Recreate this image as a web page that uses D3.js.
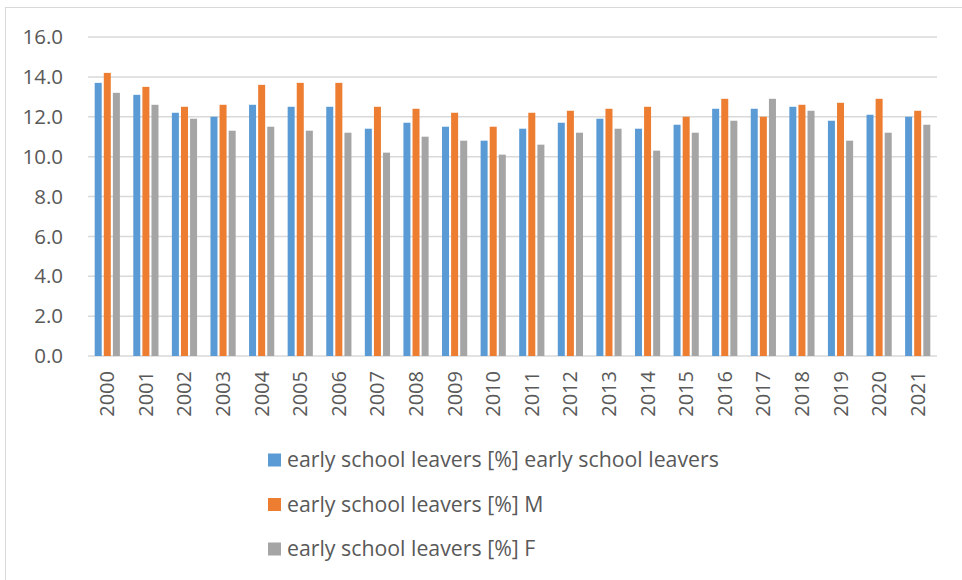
<!DOCTYPE html>
<html>
<head>
<meta charset="utf-8">
<script src="https://cdn.jsdelivr.net/npm/d3@7"></script>
<style>
  body { margin: 0; background: #fff; }
  text { font-family: "Open Sans", sans-serif; fill: #595959; }
</style>
</head>
<body>
<div id="chart"></div>
<script>
var years = ['2000', '2001', '2002', '2003', '2004', '2005', '2006', '2007', '2008', '2009', '2010',
  '2011', '2012', '2013', '2014', '2015', '2016', '2017', '2018', '2019', '2020', '2021'];
var seriesNames = ['early school leavers [%] early school leavers', 'early school leavers [%] M', 'early school leavers [%] F'];
var total = [13.7, 13.1, 12.2, 12.0, 12.6, 12.5, 12.5, 11.4, 11.7, 11.5, 10.8,
  11.4, 11.7, 11.9, 11.4, 11.6, 12.4, 12.4, 12.5, 11.8, 12.1, 12.0];
var male = [14.2, 13.5, 12.5, 12.6, 13.6, 13.7, 13.7, 12.5, 12.4, 12.2, 11.5,
  12.2, 12.3, 12.4, 12.5, 12.0, 12.9, 12.0, 12.6, 12.7, 12.9, 12.3];
var female = [13.2, 12.6, 11.9, 11.3, 11.5, 11.3, 11.2, 10.2, 11.0, 10.8, 10.1,
  10.6, 11.2, 11.4, 10.3, 11.2, 11.8, 12.9, 12.3, 10.8, 11.2, 11.6];
var yTicks = [0, 2, 4, 6, 8, 10, 12, 14, 16];
var colors = ['#5b9bd5', '#ed7d31', '#a5a5a5'];

var width = 962;
var height = 580;
var values = [total, male, female];

var svg = d3.select('#chart')
  .append('svg')
  .attr('width', width)
  .attr('height', height);

// chart border (runs off the right and bottom edges)
svg.append('rect')
  .attr('x', 5.5).attr('y', 7.5)
  .attr('width', 1000).attr('height', 1000)
  .attr('fill', 'none')
  .attr('stroke', '#d9d9d9')
  .attr('stroke-width', 1);

var x0 = d3.scaleBand().domain(years).range([88, 937]);
var groupW = 25.2;
var x1 = d3.scaleBand().domain(d3.range(3)).range([0, groupW]).paddingInner(0.23);
var y = d3.scaleLinear().domain([0, 16]).range([356, 37]);

// gridlines
svg.append('g')
  .selectAll('line')
  .data(yTicks)
  .enter()
  .append('line')
  .attr('x1', 88).attr('x2', 937)
  .attr('y1', function(d) { return y(d); })
  .attr('y2', function(d) { return y(d); })
  .attr('stroke', '#d9d9d9')
  .attr('stroke-width', 1.5);

// y labels
svg.append('g')
  .selectAll('text')
  .data(yTicks)
  .enter()
  .append('text')
  .attr('x', 63)
  .attr('y', function(d) { return y(d); })
  .attr('dy', '0.35em')
  .attr('text-anchor', 'end')
  .style('font-size', '20.5px')
  .text(function(d) { return d3.format('.1f')(d); });

// bars
var groups = svg.append('g')
  .selectAll('g')
  .data(years)
  .enter()
  .append('g')
  .attr('transform', function(d) {
    return 'translate(' + (x0(d) + (x0.bandwidth() - groupW) / 2) + ',0)';
  });

groups.selectAll('rect')
  .data(function(d, i) { return values.map(function(v, s) { return { s: s, v: v[i] }; }); })
  .enter()
  .append('rect')
  .attr('x', function(d) { return x1(d.s); })
  .attr('width', x1.bandwidth())
  .attr('y', function(d) { return y(d.v); })
  .attr('height', function(d) { return y(0) - y(d.v); })
  .attr('fill', function(d) { return colors[d.s]; });

// x labels, rotated
svg.append('g')
  .selectAll('text')
  .data(years)
  .enter()
  .append('text')
  .attr('transform', function(d) {
    return 'translate(' + (x0(d) + x0.bandwidth() / 2) + ',371) rotate(-90)';
  })
  .attr('dy', '0.35em')
  .attr('text-anchor', 'end')
  .style('font-size', '20px')
  .text(function(d) { return d; });

// legend
var legend = svg.append('g')
  .selectAll('g')
  .data(seriesNames)
  .enter()
  .append('g')
  .attr('transform', function(d, i) { return 'translate(268,' + (460 + i * 44.5) + ')'; });

legend.append('rect')
  .attr('x', 0).attr('y', -6.5)
  .attr('width', 13).attr('height', 13)
  .attr('fill', function(d, i) { return colors[i]; });

legend.append('text')
  .attr('x', 19)
  .attr('dy', '0.35em')
  .style('font-size', '21.3px')
  .text(function(d) { return d; });
</script>
</body>
</html>
